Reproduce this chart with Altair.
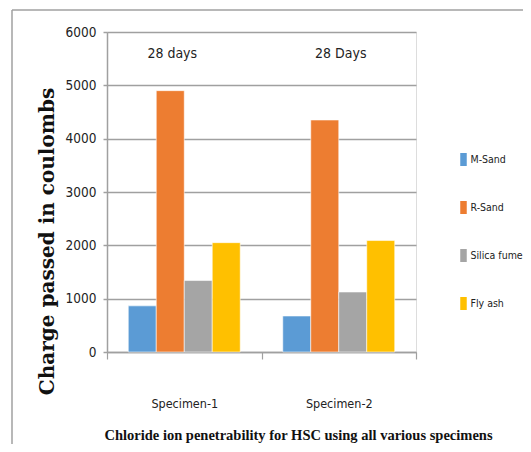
import altair as alt
import pandas as pd

specimens = ["Specimen-1", "Specimen-2"]
materials = ["M-Sand", "R-Sand", "Silica fume", "Fly ash"]
spec1_values = [865, 4900, 1340, 2050]
spec2_values = [675, 4350, 1125, 2090]
colors = ["#5B9BD5", "#ED7D31", "#A5A5A5", "#FFC000"]
ann_labels = ["28 days", "28 Days"]
ann_value = 5590
y_ticks = [0, 1000, 2000, 3000, 4000, 5000, 6000]

rows = []
for spec, vals in zip(specimens, [spec1_values, spec2_values]):
    for m, v in zip(materials, vals):
        rows.append({"Specimen": spec, "Material": m, "Charge": v})
df = pd.DataFrame(rows)

ann_df = pd.DataFrame({"Specimen": specimens, "Label": ann_labels, "Charge": [ann_value, ann_value]})

NARROW = "DejaVu Sans Condensed"
X_TITLE = "Chloride ion penetrability for HSC using  all various specimens"

x_enc = alt.X(
    "Specimen:N",
    sort=specimens,
    scale=alt.Scale(paddingInner=0, paddingOuter=0),
    axis=alt.Axis(
        title=X_TITLE,
        labelAngle=0,
        tickBand="extent",
        ticks=True,
        tickSize=7,
        tickColor="#a0a0a0",
        tickWidth=1.2,
        domainColor="#a0a0a0",
        domainWidth=1.5,
        labelFont=NARROW,
        labelFontSize=12.5,
        labelColor="#222222",
        labelPadding=38,
        titleFont="Liberation Serif",
        titleFontWeight="bold",
        titleFontSize=14.5,
        titleColor="#111111",
        titleX=191,
        titleY=83,
        titleBaseline="middle",
        titleAlign="center",
    ),
)

y_enc = alt.Y(
    "Charge:Q",
    scale=alt.Scale(domain=[0, 6000], nice=False),
    axis=alt.Axis(
        values=y_ticks,
        format="d",
        title="Charge passed in coulombs",
        grid=True,
        gridColor="#a0a0a0",
        gridWidth=1.5,
        tickSize=4,
        tickColor="#a0a0a0",
        tickWidth=1.5,
        domainColor="#a0a0a0",
        domainWidth=1.5,
        labelFont=NARROW,
        labelFontSize=13.5,
        labelColor="#222222",
        labelPadding=7,
        titleFont="DejaVu Serif",
        titleFontWeight="bold",
        titleFontSize=20,
        titleColor="#111111",
        titleX=-60,
        titleY=209,
        titleAngle=270,
        titleBaseline="middle",
        titleAlign="center",
    ),
)

bars = alt.Chart(df).mark_bar(stroke="white", strokeWidth=0.8, strokeOpacity=0.7).encode(
    x=x_enc,
    xOffset=alt.XOffset(
        "Material:N", sort=materials, scale=alt.Scale(paddingInner=0, paddingOuter=0.76)
    ),
    y=y_enc,
    color=alt.Color(
        "Material:N",
        sort=materials,
        scale=alt.Scale(domain=materials, range=colors),
        legend=alt.Legend(
            title=None,
            orient="none",
            legendX=350,
            legendY=121,
            symbolType="M-0.5,-1H0.5V1H-0.5Z",
            symbolSize=169,
            symbolStrokeWidth=0,
            labelFont=NARROW,
            labelFontSize=10.5,
            labelColor="#222222",
            labelOffset=0.5,
            rowPadding=35,
        ),
    ),
)

ann1 = alt.Chart(ann_df.iloc[[0]]).mark_text(
    font=NARROW, fontSize=14, color="#222222", dx=-12, baseline="middle"
).encode(x=x_enc, y=y_enc, text="Label:N")
ann2 = alt.Chart(ann_df.iloc[[1]]).mark_text(
    font=NARROW, fontSize=14, color="#222222", dx=2, baseline="middle"
).encode(x=x_enc, y=y_enc, text="Label:N")

frame_top = alt.Chart(alt.Data(values=[{}])).mark_rule(color="#a0a0a0", strokeWidth=1.5).encode(
    x=alt.value(-95), x2=alt.value(420), y=alt.value(-22)
)
frame_left = alt.Chart(alt.Data(values=[{}])).mark_rule(color="#a0a0a0", strokeWidth=1.5).encode(
    x=alt.value(-95), y=alt.value(-22), y2=alt.value(420)
)

chart = alt.layer(bars, ann1, ann2, frame_top, frame_left).properties(
    width=309,
    height=320,
    autosize=alt.AutoSizeParams(type="none"),
    padding={"left": 99, "top": 24, "right": 107, "bottom": 92},
).configure_view(stroke=None).configure(background="white")

chart.save("out.html", embed_options={"renderer": "svg", "actions": False})
